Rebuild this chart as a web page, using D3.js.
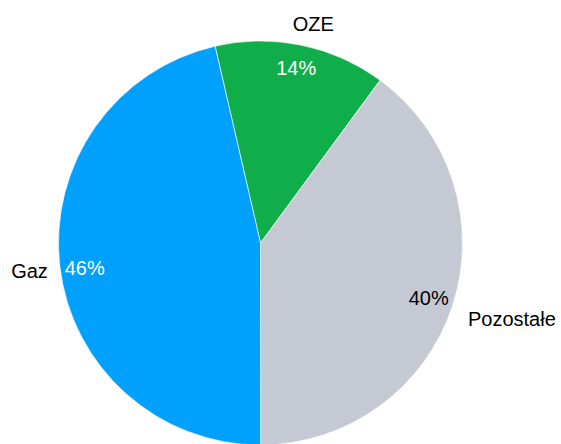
<!DOCTYPE html>
<html>
<head>
<meta charset="utf-8">
<script src="https://cdn.jsdelivr.net/npm/d3@7"></script>
<style>
  html, body { margin: 0; padding: 0; background: #fff; }
  svg { display: block; }
  text { font-family: "Liberation Sans", Arial, sans-serif; font-size: 20px; }
</style>
</head>
<body>
<script>
// udzial zrodel (wartosci, etykiety zaokraglone)
const categories = ["OZE", "Pozostałe", "Gaz"];
const values = [13.7, 39.9, 46.4];
const colors = ["#0fae4b", "#c5c9d3", "#00a0fe"];
const pctColors = ["#fff", "#000", "#fff"];

const W = 561, H = 444;
const cx = 260.5, cy = 243, R = 202;

const svg = d3.select("body").append("svg")
  .attr("width", W)
  .attr("height", H);

const g = svg.append("g").attr("transform", `translate(${cx},${cy})`);

const startA = -13 * Math.PI / 180;
const pie = d3.pie().sort(null)
  .startAngle(startA)
  .endAngle(startA + 2 * Math.PI)
  .value(d => d);

const arcs = pie(values);
const arc = d3.arc().innerRadius(0).outerRadius(R);
const pctArc = d3.arc().innerRadius(177).outerRadius(177);
const nameArc = d3.arc().innerRadius(212).outerRadius(212);

g.selectAll("path")
  .data(arcs)
  .enter()
  .append("path")
  .attr("d", arc)
  .attr("fill", (d, i) => colors[i])
  .attr("stroke", "#fff")
  .attr("stroke-width", 0.6);

// procenty
const pctNudge = { "OZE": [0, -2], "Pozostałe": [0, 0], "Gaz": [0, 5] };
g.selectAll("text.pct")
  .data(arcs)
  .enter()
  .append("text")
  .attr("class", "pct")
  .attr("x", (d, i) => pctArc.centroid(d)[0] + pctNudge[categories[i]][0])
  .attr("y", (d, i) => pctArc.centroid(d)[1] + pctNudge[categories[i]][1])
  .attr("dy", "0.35em")
  .attr("text-anchor", "middle")
  .attr("fill", (d, i) => pctColors[i])
  .text(d => Math.round(d.value) + "%");

// nazwy kategorii, lekko przesuniete jak w excelu
const nudge = { "OZE": [10, -11], "Pozostałe": [6, 10], "Gaz": [-2, 4] };
g.selectAll("text.name")
  .data(arcs)
  .enter()
  .append("text")
  .attr("class", "name")
  .attr("x", (d, i) => nameArc.centroid(d)[0] + nudge[categories[i]][0])
  .attr("y", (d, i) => nameArc.centroid(d)[1] + nudge[categories[i]][1])
  .attr("dy", "0.35em")
  .attr("text-anchor", d => {
    const m = (d.startAngle + d.endAngle) / 2;
    const s = Math.sin(m);
    return Math.abs(s) < 0.4 ? "middle" : (s > 0 ? "start" : "end");
  })
  .attr("fill", "#000")
  .text((d, i) => categories[i]);
</script>
</body>
</html>
